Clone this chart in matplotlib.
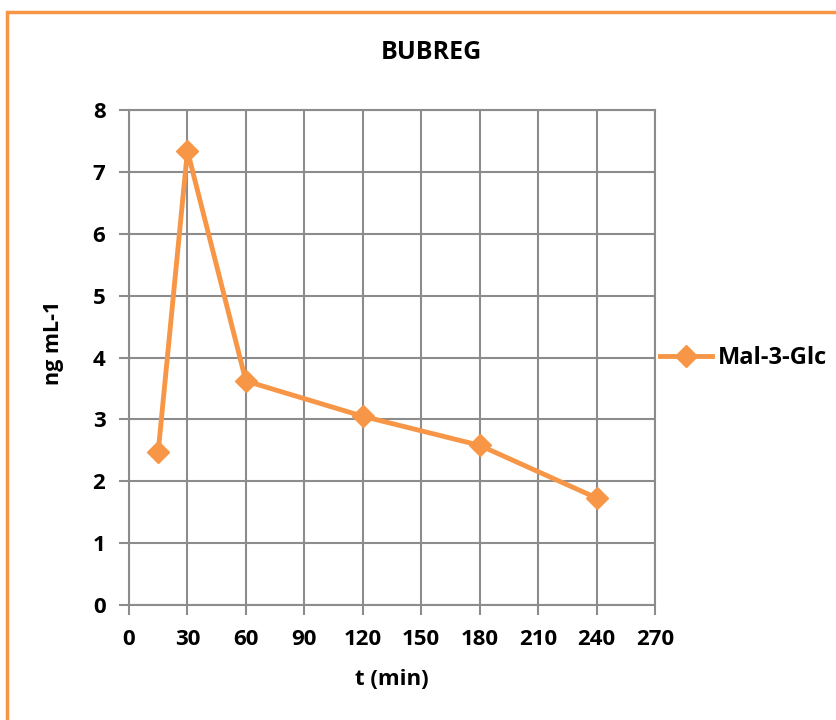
import matplotlib.pyplot as plt
from matplotlib.patches import Rectangle

# data
t_min = [15, 30, 60, 120, 180, 240]
conc = [2.48, 7.34, 3.62, 3.05, 2.58, 1.73]
series_name = 'Mal-3-Glc'

orange = '#F79646'
grid_c = '#8C8C8C'

plt.rcParams['font.family'] = ['Open Sans', 'Noto Sans', 'DejaVu Sans']
plt.rcParams['font.weight'] = 'bold'

fig = plt.figure(figsize=(8.37, 7.2), dpi=100)
ax = fig.add_axes([129/837, 1-605/720, (655-129)/837, (605-110)/720])

# orange frame around chart area
fig.patches.append(Rectangle((7/837, -0.1), 1.2, 1-12/720+0.1, transform=fig.transFigure,
                             fill=False, edgecolor=orange, linewidth=2.5, zorder=0))

ax.plot(t_min, conc, color=orange, linewidth=3.5, marker='D', markersize=11,
        markeredgecolor=orange, label=series_name, zorder=3)

ax.set_xlim(0, 270)
ax.set_ylim(0, 8)
ax.set_xticks(range(0, 271, 30))
ax.set_yticks(range(0, 9))
ax.grid(True, color=grid_c, linewidth=1.5)
for s in ax.spines.values():
    s.set_color(grid_c)
    s.set_linewidth(1.5)
ax.tick_params(axis='both', color=grid_c, width=1.5, length=7, labelsize=16)
ax.tick_params(axis='x', pad=10)
ax.tick_params(axis='y', pad=10)

fig.text(431/837, 1-59/720, 'BUBREG', fontsize=18, fontweight='bold', ha='center', va='baseline')
ax.set_xlabel('t (min)', fontsize=16, fontweight='bold', labelpad=14)
ax.set_ylabel('ng mL-1', fontsize=15.5, fontweight='bold')
ax.yaxis.set_label_coords(-0.124, (605-343)/495)

ax.legend(loc='center left', bbox_to_anchor=(660/837, 1-358/720), bbox_transform=fig.transFigure,
          frameon=False, fontsize=17, handlelength=2.2, handletextpad=0.25,
          borderpad=0, borderaxespad=0)

fig.savefig('out.png', dpi=100)
